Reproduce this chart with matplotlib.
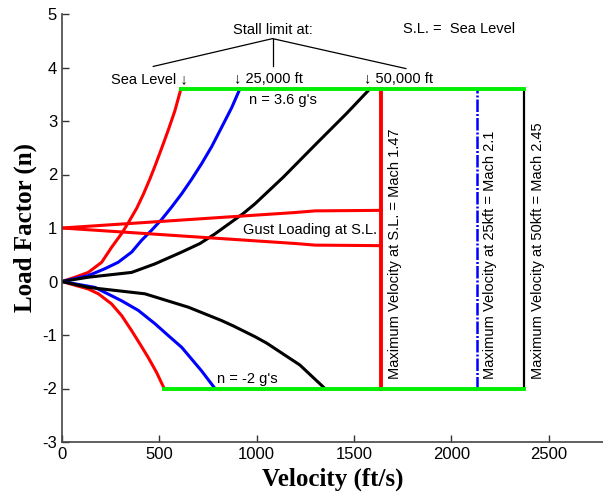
import matplotlib
matplotlib.use("Agg")
import matplotlib.pyplot as plt

plt.rcParams['font.family'] = ['Liberation Sans', 'DejaVu Sans']
plt.rcParams['axes.unicode_minus'] = False

# stall curves (ft/s, load factor) for each altitude
v_sl_pos = [0, 67, 135, 204, 255, 307, 341, 384, 418, 452, 478, 512, 546, 580, 611]
n_sl_pos = [0, 0.08, 0.17, 0.36, 0.64, 0.90, 1.10, 1.37, 1.63, 1.92, 2.16, 2.49, 2.83, 3.19, 3.6]
v_25_pos = [0, 135, 221, 289, 358, 409, 461, 512, 563, 615, 666, 717, 769, 820, 872, 914]
n_25_pos = [0, 0.11, 0.24, 0.36, 0.55, 0.77, 0.96, 1.16, 1.39, 1.64, 1.91, 2.20, 2.52, 2.88, 3.25, 3.6]
v_50_pos = [0, 135, 358, 478, 615, 709, 786, 931, 991, 1137, 1308, 1462, 1582]
n_50_pos = [0, 0.08, 0.17, 0.33, 0.55, 0.71, 0.89, 1.27, 1.45, 1.95, 2.58, 3.14, 3.6]

v_sl_neg = [0, 67, 135, 187, 255, 307, 358, 401, 443, 486, 525]
n_sl_neg = [0, -0.07, -0.14, -0.23, -0.42, -0.64, -0.92, -1.17, -1.42, -1.70, -2.0]
v_25_neg = [0, 169, 306, 392, 478, 546, 615, 666, 717, 786]
n_25_neg = [0, -0.11, -0.36, -0.54, -0.79, -1.01, -1.23, -1.45, -1.67, -2.0]
v_50_neg = [0, 135, 426, 649, 820, 880, 991, 1051, 1222, 1351]
n_50_neg = [0, -0.11, -0.23, -0.48, -0.73, -0.83, -1.03, -1.15, -1.56, -2.0]

# gust loading at sea level
v_gust = [0, 1200, 1300, 1641]
n_gust_up = [1, 1.29, 1.32, 1.33]
n_gust_dn = [1, 0.71, 0.68, 0.67]

n_max = 3.6
n_min = -2.0
v_max_sl = 1641   # Mach 1.47
v_max_25 = 2134   # Mach 2.1
v_max_50 = 2372   # Mach 2.45

# bracket over the stall-limit labels
bracket_x = [469, 1082, 1767]
bracket_apex = 4.54
bracket_foot = 4.02

fig = plt.figure(figsize=(6.03, 4.97), dpi=100)
ax = fig.add_axes([62 / 603, 55 / 497, 1 - 62 / 603, 428 / 497])

ax.plot(v_sl_pos, n_sl_pos, color='red', lw=2.2)
ax.plot(v_25_pos, n_25_pos, color='blue', lw=2.2)
ax.plot(v_50_pos, n_50_pos, color='black', lw=2.2)
ax.plot(v_sl_neg, n_sl_neg, color='red', lw=2.2)
ax.plot(v_25_neg, n_25_neg, color='blue', lw=2.2)
ax.plot(v_50_neg, n_50_neg, color='black', lw=2.2)

ax.plot(v_gust, n_gust_up, color='red', lw=2.2)
ax.plot(v_gust, n_gust_dn, color='red', lw=2.2)

ax.plot([v_sl_pos[-1], v_max_50], [n_max, n_max], color='#00ee00', lw=2.8, zorder=3)
ax.plot([v_sl_neg[-1], v_max_50], [n_min, n_min], color='#00ee00', lw=2.8, zorder=3)

ax.plot([v_max_sl, v_max_sl], [n_min, n_max], color='red', lw=2.8)
ax.plot([v_max_25, v_max_25], [n_min, n_max], color='blue', lw=1.8,
        linestyle=(0, (5, 0.8, 0.8, 0.8)))
ax.plot([v_max_50, v_max_50], [n_min, n_max], color='black', lw=1.6)

# stall limit bracket
ax.plot([bracket_x[0], bracket_x[1], bracket_x[2]],
        [bracket_foot, bracket_apex, bracket_foot - 0.04], color='black', lw=0.9)
ax.plot([bracket_x[1], bracket_x[1]], [bracket_apex, bracket_foot], color='black', lw=0.9)

fs = 10.5
ax.text(1082, 4.70, 'Stall limit at:', ha='center', va='center', fontsize=fs)
ax.text(647, 3.78, 'Sea Level \u2193', ha='right', va='center', fontsize=fs)
ax.text(885, 3.78, '\u2193 25,000 ft', ha='left', va='center', fontsize=fs)
ax.text(1552, 3.78, '\u2193 50,000 ft', ha='left', va='center', fontsize=fs)
ax.text(960, 3.40, "n = 3.6 g's", ha='left', va='center', fontsize=fs)
ax.text(1751, 4.72, 'S.L. =  Sea Level', ha='left', va='center', fontsize=fs)
ax.text(928, 0.96, 'Gust Loading at S.L.', ha='left', va='center', fontsize=fs)
ax.text(794, -1.82, "n = -2 g's", ha='left', va='center', fontsize=fs)

ax.text(1711, -1.83, 'Maximum Velocity at S.L. = Mach 1.47', rotation=90,
        ha='center', va='bottom', fontsize=fs)
ax.text(2198, -1.83, 'Maximum Velocity at 25kft = Mach 2.1', rotation=90,
        ha='center', va='bottom', fontsize=fs)
ax.text(2445, -1.83, 'Maximum Velocity at 50kft = Mach 2.45', rotation=90,
        ha='center', va='bottom', fontsize=fs)

ax.set_xlim(0, 2780)
ax.set_ylim(-3, 5)
ax.set_xticks([0, 500, 1000, 1500, 2000, 2500])
ax.set_yticks(range(-3, 6))
ax.tick_params(direction='in', length=5, width=1, labelsize=12, colors='#333333',
               labelcolor='black')
for side in ['top', 'right']:
    ax.spines[side].set_visible(False)
for side in ['left', 'bottom']:
    ax.spines[side].set_color('#444444')
    ax.spines[side].set_linewidth(1.2)

ax.set_xlabel('Velocity (ft/s)', fontsize=18, fontweight='bold',
              family='Liberation Serif', labelpad=4)
ax.set_ylabel('Load Factor (n)', fontsize=18, fontweight='bold',
              family='Liberation Serif', labelpad=4)

fig.savefig('out.png', dpi=100)
